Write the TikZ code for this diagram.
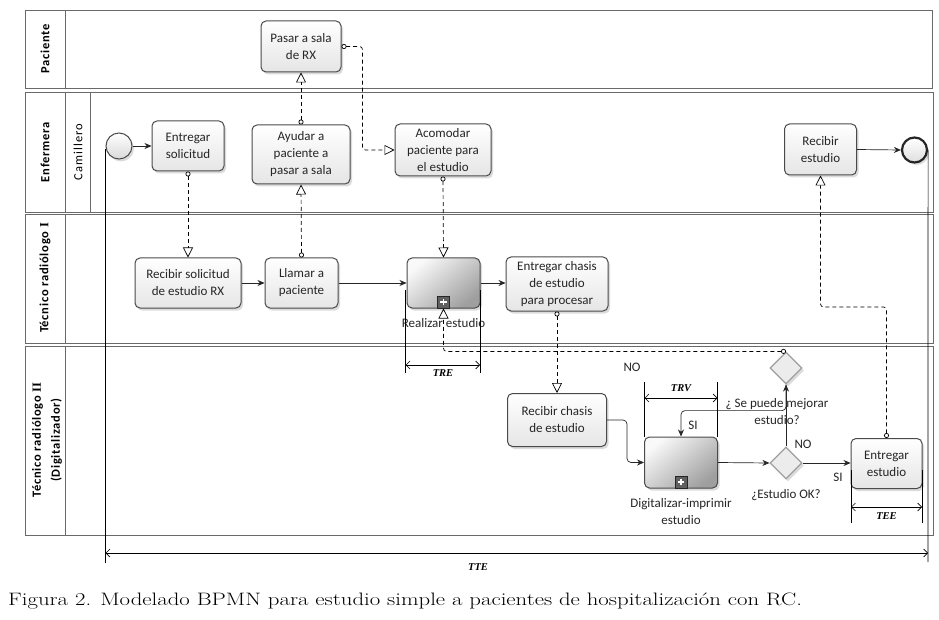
\documentclass[tikz,border=0pt]{standalone}
\usepackage{fontspec}
\usepackage{graphicx}
\usetikzlibrary{arrows.meta,shapes.geometric,shadows,calc}
\newfontfamily\bpmn{Carlito}
\newfontfamily\rmnum{Liberation Serif}
\definecolor{laneline}{HTML}{6A6A6A}
\definecolor{boxline}{HTML}{4A4A4A}
\tikzset{
  lane/.style={draw=laneline, line width=0.8pt},
  shadowed/.style={drop shadow={opacity=0.28, shadow xshift=2pt, shadow yshift=-2.5pt}},
  task/.style={rectangle, rounded corners=5pt, draw=boxline, line width=1pt,
    top color=white, bottom color=gray!20, shadowed, align=center, inner sep=0pt,
    font=\bpmn\fontsize{13}{17}\selectfont, text=black!85},
  subproc/.style={rectangle, rounded corners=5pt, draw=boxline, line width=1pt,
    top color=gray!5, bottom color=gray!75, shading angle=40, shadowed, inner sep=0pt},
  plusmark/.style={rectangle, draw=black!85, fill=gray!75!black, minimum size=12pt, inner sep=0pt, line width=0.9pt,
    path picture={\draw[white, line width=1.6pt]
      ($(path picture bounding box.center)+(-3.2pt,0pt)$) -- ($(path picture bounding box.center)+(3.2pt,0pt)$)
      ($(path picture bounding box.center)+(0pt,-3.2pt)$) -- ($(path picture bounding box.center)+(0pt,3.2pt)$);}},
  gate/.style={diamond, aspect=1, minimum width=32pt, minimum height=32pt, inner sep=0pt,
    draw=gray!75, line width=1.2pt, fill=gray!15, shadowed},
  startev/.style={circle, minimum size=26pt, inner sep=0pt, draw=gray!60!black, line width=1pt,
    top color=white, bottom color=gray!30, shadowed},
  endev/.style={circle, minimum size=25pt, inner sep=0pt, draw=black!85, line width=2.2pt,
    top color=white, bottom color=gray!25, shadowed},
  seq/.style={draw=black!85, line width=0.7pt, -{Stealth[length=7pt,width=6pt]}},
  msg/.style={draw=black, line width=0.7pt, dash pattern=on 4pt off 3pt,
    {Circle[open, fill=white, length=5pt, width=5pt]}-{Triangle[open, fill=white, length=10pt, width=10pt]}},
  dim/.style={draw=black, line width=0.6pt, {Straight Barb[length=4pt,width=8pt]}-{Straight Barb[length=4pt,width=8pt]}},
  ext/.style={draw=black, line width=0.7pt},
  dimlbl/.style={font=\rmnum\bfseries\itshape\fontsize{10.5}{12}\selectfont, inner sep=0pt},
  lbl/.style={font=\bpmn\fontsize{13}{17}\selectfont, text=black!85, align=center, inner sep=0pt},
  lanetitle/.style={font=\bpmn\bfseries\fontsize{12.5}{15}\selectfont\addfontfeatures{LetterSpace=6}, rotate=90, align=center, inner sep=0pt},
}
\begin{document}
\begin{tikzpicture}[x=1pt, y=-1pt]
\useasboundingbox (0,0) rectangle (939,620);
\fill[white] (0,0) rectangle (939,620);

% lanes
\draw[lane] (25,10) rectangle (932,88);
\draw[lane] (65,10) -- (65,88);
\draw[lane] (25,92) rectangle (933,212);
\draw[lane] (65,92) -- (65,212);
\draw[lane] (90,92) -- (90,212);
\draw[lane] (25,214.5) rectangle (933,343);
\draw[lane] (65,214.5) -- (65,343);
\draw[lane] (25,346) rectangle (933,535);
\draw[lane] (65,346) -- (65,535);

\node[lanetitle] (t1) at (45,49) {Paciente};
\node[lanetitle] (t2) at (45,152) {Enfermera};
\node[lanetitle, font=\bpmn\fontsize{12.5}{15}\selectfont\addfontfeatures{LetterSpace=8}] (t2b) at (78,152) {Camillero};
\node[lanetitle] (t3) at (45,278) {Técnico radiólogo {\rmnum I}};
\node[lanetitle, font=\bpmn\bfseries\fontsize{12.5}{19}\selectfont\addfontfeatures{LetterSpace=6}] (t4) at (47,440) {Técnico radiólogo {\rmnum II}\\(Digitalizador)};

% events
\node[startev] (start) at (119,146) {};
\node[endev] (end) at (914.5,150) {};

% tasks
\node[task, minimum width=80pt, minimum height=51pt] (pasar) at (301,46.5) {Pasar a sala\\de RX};
\node[task, minimum width=72pt, minimum height=50pt] (entsol) at (188,146) {Entregar\\solicitud};
\node[task, minimum width=98pt, minimum height=59pt] (ayudar) at (301,154.5) {Ayudar a\\paciente a\\pasar a sala};
\node[task, minimum width=96pt, minimum height=52pt] (acomodar) at (443,150) {Acomodar\\paciente para\\el estudio};
\node[task, minimum width=72pt, minimum height=51pt] (recest) at (820.5,149.5) {Recibir\\estudio};
\node[task, minimum width=106pt, minimum height=50pt] (recsol) at (188,283) {Recibir solicitud\\de estudio RX};
\node[task, minimum width=73pt, minimum height=50pt] (llamar) at (301.5,283) {Llamar a\\paciente};
\node[subproc, minimum width=73pt, minimum height=50pt] (realizar) at (443.5,283) {};
\node[plusmark, anchor=south] (plus1) at (realizar.south) {};
\node[lbl, anchor=north] (realizarl) at (443.5,318) {Realizar estudio};
\node[task, minimum width=102pt, minimum height=54pt] (entchasis) at (557,284) {Entregar chasis\\de estudio\\para procesar};
\node[task, minimum width=99pt, minimum height=53pt] (recchasis) at (557,420) {Recibir chasis\\de estudio};
\node[subproc, minimum width=73pt, minimum height=51pt] (digit) at (681,462.5) {};
\node[plusmark, anchor=south] (plus2) at (digit.south) {};
\node[lbl, anchor=north] (digitl) at (681,498) {Digitalizar-imprimir\\estudio};
\node[task, minimum width=71pt, minimum height=50pt] (entest) at (886.5,463.5) {Entregar\\estudio};

% gateways
\node[gate] (ok) at (786,463) {};
\node[lbl, anchor=north] (okl) at (786,489) {¿Estudio OK?};
\node[gate] (mej) at (786,368) {};
\node[lbl] (mejl) at (777,412) {¿ Se puede mejorar\\estudio?};

% sequence flows
\draw[seq] (start) -- (entsol);
\draw[seq] (recsol) -- (llamar);
\draw[seq] (llamar) -- (realizar);
\draw[seq] (realizar.east) -- (realizar.east -| entchasis.west);
\draw[seq, rounded corners=4pt] (recchasis.east) -- ++(20,0) |- (digit.west);
\draw[seq] (digit.east) -- (ok.west);
\draw[seq] (ok.east) -- (ok.east -| entest.west);
\draw[seq] (ok.north) -- (mej.south);
\draw[seq, rounded corners=4pt] (mej.south) -- ++(0,26) -| (digit.north);
\draw[seq] (recest.east) -- (end.west);

% message flows
\draw[msg] (entsol.south) -- (recsol.north);
\draw[msg] (llamar.north) -- (ayudar.south);
\draw[msg] (ayudar.north) -- (pasar.south);
\draw[msg, rounded corners=3pt] (pasar.east) -- ++(21,0) |- (acomodar.west);
\draw[msg] (acomodar.south) -- (realizar.north);
\draw[msg] (entchasis.south) -- (recchasis.north);
\draw[msg, rounded corners=3pt] (mej.north) -| (realizar.south);
\draw[msg, rounded corners=3pt] (entest.north) -- ++(0,-131) -| (recest.south);

% gateway labels
\node[lbl] (no1) at (632,367) {NO};
\node[lbl] (si1) at (693,425) {SI};
\node[lbl] (no2) at (803,444) {NO};
\node[lbl] (si2) at (838,477) {SI};

% dimensions
\draw[ext] (405.5,290) -- (405.5,373);
\draw[ext] (480,290) -- (480,373);
\draw[dim] (405.5,365) -- (480,365);
\node[dimlbl] (tre) at (443,373) {TRE};

\draw[ext] (644.5,382) -- (644.5,437);
\draw[ext] (717.5,382) -- (717.5,437);
\draw[dim] (644.5,398) -- (717.5,398);
\node[dimlbl] (trv) at (681,388) {TRV};

\draw[ext] (851,470) -- (851,523);
\draw[ext] (922,470) -- (922,523);
\draw[dim] (851,507) -- (922,507);
\node[dimlbl] (tee) at (886.5,516) {TEE};

\draw[ext] (start.west) ++(0,3) -- (105.5,563);
\draw[ext] (end.east) -- (928,562);
\draw[dim] (105.5,553) -- (928,553);
\node[dimlbl] (tte) at (478,567) {TTE};

% caption
\node[anchor=base west, inner sep=0pt, font=\fontsize{18}{21}\selectfont] (cap) at (8,605)
  {\scalebox{1.265}[1]{Figura 2. Modelado BPMN para estudio simple a pacientes de hospitalización con RC.}};
\end{tikzpicture}
\end{document}
